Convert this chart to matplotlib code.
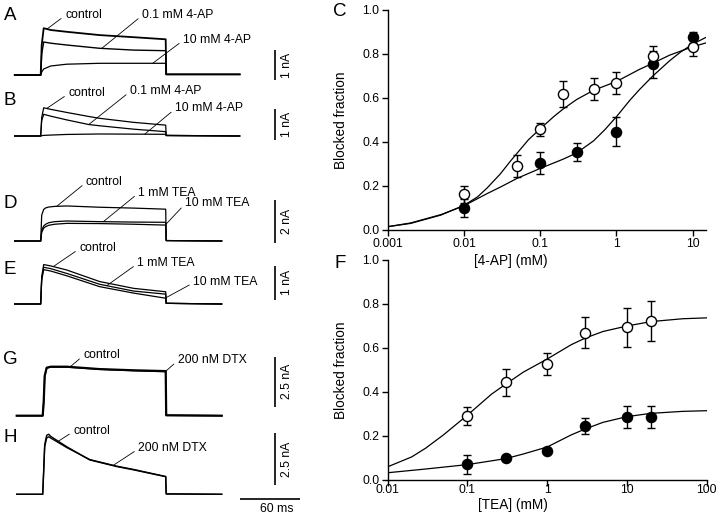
import numpy as np
import matplotlib
matplotlib.use("Agg")
from matplotlib import pyplot as plt
from matplotlib.ticker import FixedLocator, FixedFormatter, NullLocator

plt.rcParams['font.family'] = ['Liberation Sans', 'DejaVu Sans']

# ---- current traces (time in ms, current in nA) ----
t_A = [-26, 0, 1, 3, 10, 26, 59, 93, 125, 125.5, 199]
A_control = [0, 0, 1.0, 1.56, 1.50, 1.44, 1.33, 1.26, 1.19, 0.02, 0.02]
A_ap01 = [0, 0, 0.7, 1.10, 1.06, 1.00, 0.89, 0.83, 0.81, 0.02, 0.02]
A_ap10 = [0, 0, 0.1, 0.20, 0.30, 0.36, 0.39, 0.39, 0.39, 0.02, 0.02]

t_B = [-26, 0, 1, 3, 10, 26, 48, 59, 93, 125, 125.5, 199]
B_control = [0, 0, 0.6, 0.91, 0.86, 0.76, 0.63, 0.57, 0.44, 0.35, 0.02, 0]
B_ap01 = [0, 0, 0.5, 0.70, 0.64, 0.52, 0.37, 0.33, 0.22, 0.14, 0.02, 0]
B_ap10 = [0, 0, 0.01, 0.02, 0.03, 0.05, 0.06, 0.065, 0.06, 0.055, 0.01, 0]

t_D = [-26, 0, 1, 3, 5, 8, 14, 26, 59, 93, 125, 125.5, 181]
D_control = [0, 0, 1.2, 1.47, 1.54, 1.58, 1.61, 1.63, 1.57, 1.53, 1.48, 0.02, 0]
D_tea1 = [0, 0, 0.5, 0.70, 0.78, 0.85, 0.90, 0.93, 0.90, 0.88, 0.87, 0.02, 0]
D_tea10 = [0, 0, 0.4, 0.60, 0.67, 0.73, 0.78, 0.82, 0.81, 0.78, 0.74, 0.02, 0]

t_E = [-26, 0, 1, 3, 10, 26, 59, 93, 125, 125.5, 181]
E_control = [0, 0, 0.8, 1.16, 1.12, 1.00, 0.66, 0.46, 0.36, 0.02, 0]
E_tea1 = [0, 0, 0.75, 1.08, 1.04, 0.90, 0.58, 0.38, 0.29, 0.02, 0]
E_tea10 = [0, 0, 0.7, 1.01, 0.97, 0.83, 0.51, 0.32, 0.17, 0.02, 0]

t_G = [-24, 2, 3, 4, 6, 10, 26, 59, 93, 125, 125.5, 181]
G_control = [0, 0, 0.7, 2.0, 2.4, 2.45, 2.45, 2.33, 2.27, 2.23, 0.02, 0]
G_dtx = [0, 0, 0.65, 1.95, 2.38, 2.43, 2.43, 2.32, 2.25, 2.20, 0.02, 0]

t_H = [-24, 2, 3, 4, 6, 8, 10, 26, 49, 76, 93, 125, 125.5, 181]
H_control = [0, 0, 1.2, 2.4, 2.85, 2.9, 2.8, 2.30, 1.66, 1.34, 1.18, 0.85, 0.02, 0]
H_dtx = [0, 0, 1.1, 2.3, 2.72, 2.78, 2.72, 2.26, 1.68, 1.36, 1.20, 0.86, 0.02, 0]

# ---- dose-response, 4-AP (panel C) ----
ap_open_x = [0.01, 0.05, 0.1, 0.2, 0.5, 1, 3, 10]
ap_open_y = [0.162, 0.292, 0.458, 0.618, 0.639, 0.670, 0.792, 0.833]
ap_open_err = [0.04, 0.05, 0.03, 0.06, 0.05, 0.05, 0.045, 0.04]
ap_fill_x = [0.01, 0.1, 0.3, 1, 3, 10]
ap_fill_y = [0.100, 0.303, 0.355, 0.447, 0.753, 0.876]
ap_fill_err = [0.04, 0.05, 0.04, 0.065, 0.06, 0.025]

ap_fit_open_x = [0.001, 0.002, 0.005, 0.01, 0.015, 0.02, 0.03, 0.04, 0.05, 0.07, 0.1,
                 0.15, 0.2, 0.3, 0.5, 1, 2, 3, 5, 10, 14.8]
ap_fit_open_y = [0.015, 0.03, 0.068, 0.112, 0.15, 0.19, 0.255, 0.31, 0.35, 0.41, 0.46,
                 0.515, 0.55, 0.593, 0.635, 0.675, 0.73, 0.758, 0.795, 0.833, 0.85]
ap_fit_fill_x = [0.001, 0.002, 0.005, 0.01, 0.02, 0.03, 0.05, 0.1, 0.2, 0.3,
                 0.5, 0.7, 1, 1.5, 2, 3, 5, 7, 10, 14.8]
ap_fit_fill_y = [0.015, 0.032, 0.07, 0.11, 0.165, 0.195, 0.235, 0.28, 0.322, 0.35,
                 0.405, 0.455, 0.515, 0.59, 0.638, 0.70, 0.77, 0.81, 0.845, 0.875]

# ---- dose-response, TEA (panel F) ----
tea_open_x = [0.1, 0.3, 1, 3, 10, 20]
tea_open_y = [0.292, 0.444, 0.526, 0.670, 0.694, 0.723]
tea_open_err = [0.04, 0.06, 0.05, 0.07, 0.09, 0.09]
tea_fill_x = [0.1, 0.3, 1, 3, 10, 20]
tea_fill_y = [0.071, 0.098, 0.132, 0.247, 0.288, 0.288]
tea_fill_err = [0.043, 0.0, 0.0, 0.037, 0.05, 0.05]

tea_fit_open_x = [0.01, 0.02, 0.03, 0.05, 0.1, 0.2, 0.3, 0.5, 1, 2, 3, 5, 10, 20, 50, 100]
tea_fit_open_y = [0.06, 0.105, 0.145, 0.205, 0.295, 0.39, 0.435, 0.49, 0.55, 0.615,
                  0.645, 0.675, 0.70, 0.72, 0.733, 0.737]
tea_fit_fill_x = [0.01, 0.03, 0.1, 0.3, 0.5, 1, 2, 3, 5, 10, 20, 50, 100]
tea_fit_fill_y = [0.033, 0.05, 0.07, 0.097, 0.118, 0.15, 0.205, 0.232, 0.262, 0.288,
                  0.303, 0.312, 0.315]

ap_ticks = [0.001, 0.01, 0.1, 1, 10]
ap_ticklabels = ['0.001', '0.01', '0.1', '1', '10']
tea_ticks = [0.01, 0.1, 1, 10, 100]
tea_ticklabels = ['0.01', '0.1', '1', '10', '100']
frac_ticks = [0.0, 0.2, 0.4, 0.6, 0.8, 1.0]

W, H = 720, 522
fig = plt.figure(figsize=(7.2, 5.22), dpi=100)
T0 = 40.7  # pixel of pulse onset


def trace_ax(top, bottom, base, px_per_na):
    ax = fig.add_axes([0, 1 - bottom / H, 300 / W, (bottom - top) / H])
    ax.set_xlim(-T0, 300 - T0)
    ax.set_ylim(-(bottom - base) / px_per_na, (base - top) / px_per_na)
    ax.axis('off')
    return ax


def label(ax, text, t, tt, yt, time, trace):
    y = np.interp(t, time, trace)
    ax.annotate(text, xy=(t, y), xytext=(tt, yt), fontsize=8.8, ha='left', va='center',
                arrowprops=dict(arrowstyle='-', color='k', lw=0.6, shrinkA=1, shrinkB=0,
                                relpos=(0, 0.45)))


def scalebar(ax, y0, size, text):
    ax.plot([234.5, 234.5], [y0, y0 + size], color='k', lw=1.2, solid_capstyle='butt')
    ax.text(246.5, y0 + size / 2, text, rotation=90, fontsize=8.8, ha='center', va='center')


# A
ax = trace_ax(0, 88, 75, 30)
ax.plot(t_A, A_control, color='k', lw=1.3)
ax.plot(t_A, A_ap01, color='k', lw=1.0)
ax.plot(t_A, A_ap10, color='k', lw=0.9)
label(ax, 'control', 6.3, 24.3, 2.0, t_A, A_control)
label(ax, '0.1 mM 4-AP', 61, 101.3, 2.0, t_A, A_ap01)
label(ax, '10 mM 4-AP', 112, 142.3, 1.17, t_A, A_ap10)
scalebar(ax, -0.17, 1, '1 nA')

# B
ax = trace_ax(88, 152, 136, 31)
ax.plot(t_B, B_control, color='k', lw=0.9)
ax.plot(t_B, B_ap01, color='k', lw=0.9)
ax.plot(t_B, B_ap10, color='k', lw=0.9)
label(ax, 'control', 6, 27.6, 1.38, t_B, B_control)
label(ax, '0.1 mM 4-AP', 48, 89.3, 1.45, t_B, B_ap01)
label(ax, '10 mM 4-AP', 104, 134.3, 0.89, t_B, B_ap10)
scalebar(ax, -0.13, 1, '1 nA')

# D
ax = trace_ax(160, 245, 241, 21.5)
ax.plot(t_D, D_control, color='k', lw=0.9)
ax.plot(t_D, D_tea1, color='k', lw=0.9)
ax.plot(t_D, D_tea10, color='k', lw=0.9)
label(ax, 'control', 16, 45.3, 2.75, t_D, D_control)
label(ax, '1 mM TEA', 62.6, 97.6, 2.25, t_D, D_tea1)
label(ax, '10 mM TEA', 124.5, 144.3, 1.75, t_D, D_tea10)
scalebar(ax, -0.1, 2, '2 nA')

# E
ax = trace_ax(245, 320, 304, 34)
ax.plot(t_E, E_control, color='k', lw=0.9)
ax.plot(t_E, E_tea1, color='k', lw=0.9)
ax.plot(t_E, E_tea10, color='k', lw=0.9)
label(ax, 'control', 12.6, 38.6, 1.64, t_E, E_control)
label(ax, '1 mM TEA', 66, 96.6, 1.2, t_E, E_tea1)
label(ax, '10 mM TEA', 124.5, 152.6, 0.64, t_E, E_tea10)
scalebar(ax, 0.12, 1, '1 nA')

# G
ax = trace_ax(330, 420, 415.7, 20)
ax.plot(t_G, G_control, color='k', lw=1.6)
ax.plot(t_G, G_dtx, color='k', lw=1.0)
label(ax, 'control', 29.3, 42.6, 3.03, t_G, G_control)
label(ax, '200 nM DTX', 124.5, 137, 2.78, t_G, G_dtx)
scalebar(ax, 0.45, 2.5, '2.5 nA')

# H
ax = trace_ax(420, 522, 494.3, 20.7)
ax.plot(t_H, H_control, color='k', lw=1.0)
ax.plot(t_H, H_dtx, color='k', lw=1.0)
label(ax, 'control', 17.6, 32.6, 3.06, t_H, H_control)
label(ax, '200 nM DTX', 72.6, 97.6, 2.22, t_H, H_dtx)
scalebar(ax, 0.45, 2.5, '2.5 nA')
ax.plot([199.3, 259.3], [-0.24, -0.24], color='k', lw=1.2, clip_on=False, solid_capstyle='butt')
ax.text(236, -0.72, '60 ms', fontsize=8.8, ha='center', va='center', clip_on=False)

# panel letters
for letter, (px, py) in {'A': (10, 15), 'B': (10, 100), 'D': (10, 203), 'E': (10, 270),
                         'G': (10, 360), 'H': (10, 438), 'C': (340, 12), 'F': (340, 264)}.items():
    fig.text(px / W, 1 - py / H, letter, fontsize=13.5, ha='center', va='center')


def dose_ax(left, right, top, bottom, pad):
    ax = fig.add_axes([left / W, 1 - bottom / H, (right - left) / W, (bottom - top) / H])
    ax.set_facecolor('none')
    ax.set_xscale('log')
    ax.set_ylim(0, 1.0)
    for s in ['top', 'right']:
        ax.spines[s].set_visible(False)
    for s in ['left', 'bottom']:
        ax.spines[s].set_linewidth(1.0)
    ax.yaxis.set_major_locator(FixedLocator(frac_ticks))
    ax.yaxis.set_major_formatter(FixedFormatter(['%.1f' % v for v in frac_ticks]))
    ax.tick_params(direction='out', length=4, width=1.0, labelsize=8.8, pad=2)
    ax.tick_params(axis='x', pad=pad)
    ax.set_ylabel('Blocked fraction', fontsize=9.8)
    return ax


def dose_points(ax, x, y, err, face):
    ax.errorbar(x, y, yerr=err, fmt='none', ecolor='k', elinewidth=1.0, capsize=2.6,
                capthick=1.0, zorder=3)
    ax.plot(x, y, 'o', ms=7.3, mfc=face, mec='k', mew=1.0, zorder=4, clip_on=False)


# C
ax = dose_ax(387.7, 705.7, 10, 230, 2)
ax.set_xlim(0.001, 14.8)
ax.plot(ap_fit_open_x, ap_fit_open_y, color='k', lw=0.9)
ax.plot(ap_fit_fill_x, ap_fit_fill_y, color='k', lw=0.9)
dose_points(ax, ap_fill_x, ap_fill_y, ap_fill_err, 'k')
dose_points(ax, ap_open_x, ap_open_y, ap_open_err, 'white')
ax.xaxis.set_major_locator(FixedLocator(ap_ticks))
ax.xaxis.set_major_formatter(FixedFormatter(ap_ticklabels))
ax.xaxis.set_minor_locator(NullLocator())
ax.set_xlabel('[4-AP] (mM)', fontsize=9.8)
ax.xaxis.set_label_coords(0.388, -0.108)
ax.yaxis.set_label_coords(-0.125, 0.5)

# F
ax = dose_ax(387.7, 706.7, 260, 480, -1)
ax.set_xlim(0.01, 100)
ax.plot(tea_fit_open_x, tea_fit_open_y, color='k', lw=0.9)
ax.plot(tea_fit_fill_x, tea_fit_fill_y, color='k', lw=0.9)
dose_points(ax, tea_fill_x, tea_fill_y, tea_fill_err, 'k')
dose_points(ax, tea_open_x, tea_open_y, tea_open_err, 'white')
ax.xaxis.set_major_locator(FixedLocator(tea_ticks))
ax.xaxis.set_major_formatter(FixedFormatter(tea_ticklabels))
ax.xaxis.set_minor_locator(NullLocator())
ax.set_xlabel('[TEA] (mM)', fontsize=9.8)
ax.xaxis.set_label_coords(0.393, -0.082)
ax.yaxis.set_label_coords(-0.125, 0.5)

fig.savefig('out.png', dpi=100, facecolor='white')
